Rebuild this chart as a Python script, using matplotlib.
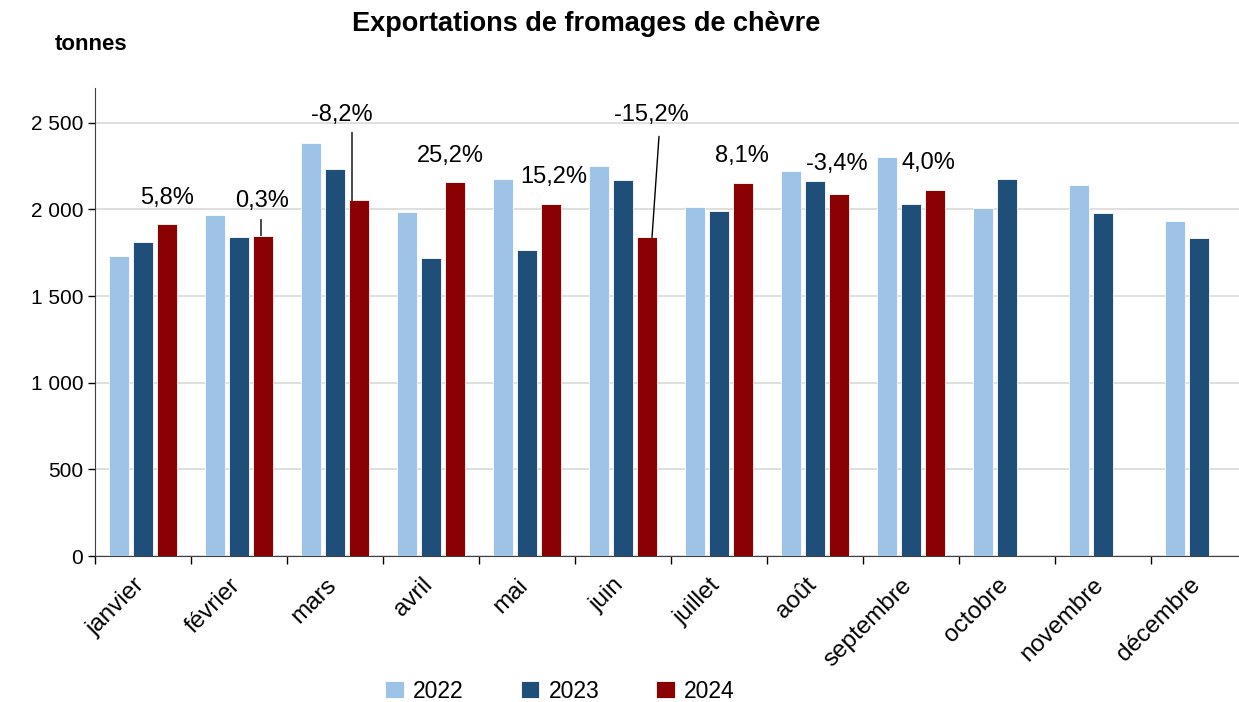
import numpy as np
import matplotlib.pyplot as plt
from matplotlib.ticker import FuncFormatter, FixedLocator
from matplotlib.transforms import ScaledTranslation, offset_copy

# ---------------------------------------------------------------------------
# Data (tonnes)
# ---------------------------------------------------------------------------
months = ["janvier", "février", "mars", "avril", "mai", "juin", "juillet",
          "août", "septembre", "octobre", "novembre", "décembre"]
years = ["2022", "2023", "2024"]

exports_2022 = [1728, 1970, 2385, 1987, 2177, 2252, 2016, 2223, 2304, 2005, 2143, 1935]
exports_2023 = [1814, 1843, 2235, 1722, 1763, 2172, 1993, 2166, 2028, 2177, 1976, 1832]
exports_2024 = [1918, 1849, 2051, 2160, 2028, 1838, 2154, 2091, 2114]

change_labels = ["5,8%", "0,3%", "-8,2%", "25,2%", "15,2%", "-15,2%",
                 "8,1%", "-3,4%", "4,0%"]

# ---------------------------------------------------------------------------
# Style
# ---------------------------------------------------------------------------
colors = ["#9DC3E6", "#1F4E79", "#8B0000"]
# label offsets in pixels (dx, dy) from the top of the 2024 bar
label_offsets = [(0, 26), (-1, 35), (-17, 85), (-5, 26), (3, 27), (4, 122),
                 (-1, 27), (-2, 30), (-7, 27)]
# leader lines: (dx at bar, dx at top, dy at top) in pixels, None if no line
leaders = [None, (-2, -2, 16), (-7, -7, 68), None, None, (5, 12, 101),
           None, None, None]

plt.rcParams['font.family'] = ['Liberation Sans', 'DejaVu Sans']

fig = plt.figure(figsize=(12.39, 7.02), dpi=100)
ax = fig.add_axes([95 / 1239, 1 - 556 / 702, (1239 - 95) / 1239, (556 - 88) / 702])

x = np.arange(len(months))
offset = 0.25
width = 0.21
series = [exports_2022, exports_2023, exports_2024]
for i, (vals, col, yr) in enumerate(zip(series, colors, years)):
    xs = x[:len(vals)] + (i - 1) * offset
    ax.bar(xs, vals, width=width, color=col, edgecolor="white", linewidth=0.6,
           label=yr, zorder=3)

# Percent change labels on 2024 bars
for i, txt in enumerate(change_labels):
    bx = x[i] + offset
    by = exports_2024[i]
    dx, dy = label_offsets[i]
    ax.annotate(txt, xy=(bx, by), xytext=(dx, dy), textcoords="offset pixels",
                ha="center", va="center", fontsize=17, zorder=5)
    if leaders[i] is not None:
        ldx0, ldx1, ldy = leaders[i]
        base = offset_copy(ax.transData, fig=fig, x=ldx0, y=0, units="dots")
        ax.annotate("", xy=(bx, by), xycoords=base,
                    xytext=(ldx1 - ldx0, ldy), textcoords="offset pixels",
                    arrowprops=dict(arrowstyle="-", color="black", lw=1,
                                    shrinkA=0, shrinkB=0), zorder=5)

ax.set_ylim(0, 2700)
ax.set_xlim(-0.5, -0.5 + (1239 - 95) / 96)
ax.set_yticks(np.arange(0, 2501, 500))
ax.yaxis.set_major_formatter(FuncFormatter(lambda v, p: f"{int(v):,}".replace(",", " ")))
ax.yaxis.grid(True, color="#D9D9D9", lw=1.2, zorder=0)
ax.tick_params(axis="y", labelsize=15, length=5, direction="out", width=1)

ax.xaxis.set_major_locator(FixedLocator(np.arange(len(months) + 1) - 0.5))
ax.xaxis.set_minor_locator(FixedLocator(x))
ax.set_xticklabels([], minor=False)
ax.set_xticklabels(months, minor=True, rotation=45, ha="right",
                   rotation_mode="anchor", fontsize=17.5)
ax.tick_params(axis="x", which="major", length=6, width=1, direction="out")
ax.tick_params(axis="x", which="minor", length=0, pad=13)
shift = ScaledTranslation(-10 / 100, 0, fig.dpi_scale_trans)
for lbl in ax.get_xticklabels(minor=True):
    lbl.set_transform(lbl.get_transform() + shift)

for s in ["top", "right"]:
    ax.spines[s].set_visible(False)
ax.spines["left"].set_color("#404040")
ax.spines["bottom"].set_color("#404040")

fig.text(586 / 1239, 1 - 24 / 702, "Exportations de fromages de chèvre",
         ha="center", va="center", fontsize=19.5, fontweight="bold")
fig.text(91 / 1239, 1 - 44 / 702, "tonnes", ha="center", va="center",
         fontsize=16, fontweight="bold")

fig.legend(loc="center", bbox_to_anchor=(560 / 1239, 1 - 691 / 702), ncol=3,
           frameon=False, fontsize=16.5, handlelength=0.8, handleheight=0.8,
           columnspacing=2.5, handletextpad=0.4)

fig.savefig("out.png", dpi=100)
